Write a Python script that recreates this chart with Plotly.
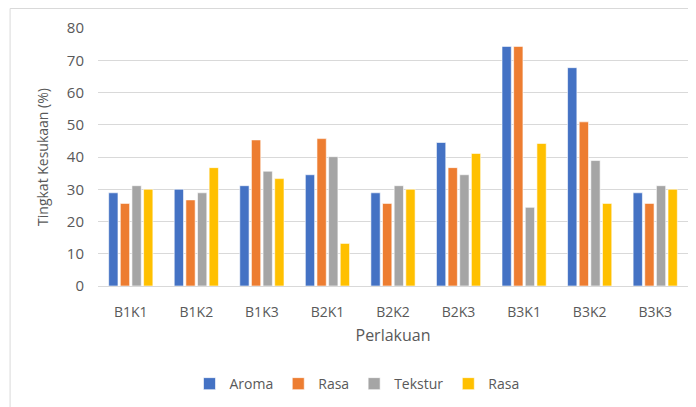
import plotly.graph_objects as go

categories = ["B1K1", "B1K2", "B1K3", "B2K1", "B2K2", "B2K3", "B3K1", "B3K2", "B3K3"]
aroma = [28.9, 30.0, 31.1, 34.5, 28.9, 44.5, 74.3, 67.7, 28.9]
rasa = [25.6, 26.7, 45.3, 45.7, 25.6, 36.7, 74.3, 50.9, 25.6]
tekstur = [31.1, 28.9, 35.6, 40.1, 31.1, 34.5, 24.4, 38.9, 31.1]
rasa2 = [30.0, 36.7, 33.3, 13.2, 30.0, 41.1, 44.2, 25.6, 30.0]

series = [
    ("Aroma", aroma, "#4472C4"),
    ("Rasa", rasa, "#ED7D31"),
    ("Tekstur", tekstur, "#A5A5A5"),
    ("Rasa", rasa2, "#FFC000"),
]

font_family = "Open Sans, Liberation Sans, sans-serif"
text_color = "#595959"

fig = go.Figure()
for name, vals, color in series:
    fig.add_trace(go.Bar(
        x=categories, y=vals, name=name,
        marker=dict(color=color, line=dict(color="white", width=0.6)),
    ))

# page body has an 8px margin, so the figure is sized to fit the window
fig.update_layout(
    width=688, height=399,
    margin=dict(l=90, r=8, t=20, b=121, autoexpand=False),
    paper_bgcolor="white", plot_bgcolor="white",
    barmode="group", bargap=0.29, bargroupgap=0.2,
    font=dict(family=font_family, color=text_color, size=13),
    showlegend=True,
    legend=dict(orientation="h", x=0.439, xanchor="center", y=-0.318, yanchor="top",
                font=dict(size=14, color=text_color), itemwidth=30,
                traceorder="normal"),
    xaxis=dict(
        title=dict(text="Perlakuan", font=dict(size=16, color=text_color), standoff=10),
        tickfont=dict(size=14, color=text_color), ticklabelstandoff=13,
        showline=True, linecolor="#D9D9D9", linewidth=1,
        ticks="", showgrid=False, automargin=False,
    ),
    yaxis=dict(
        title=dict(text="Tingkat Kesukaan (%)", font=dict(size=14, color=text_color), standoff=14),
        range=[0, 80], dtick=10,
        tickfont=dict(size=15, color=text_color), ticklabelstandoff=13,
        showgrid=True, gridcolor="#D9D9D9", gridwidth=1,
        zeroline=False, showline=False, ticks="", automargin=False,
    ),
    shapes=[dict(type="rect", xref="paper", yref="paper", x0=-0.149, x1=1.05, y0=-0.9,
                 y1=1 + 19.5 / 258,
                 line=dict(color="#D9D9D9", width=1), fillcolor="rgba(0,0,0,0)")],
)

fig.write_html("out.html")
